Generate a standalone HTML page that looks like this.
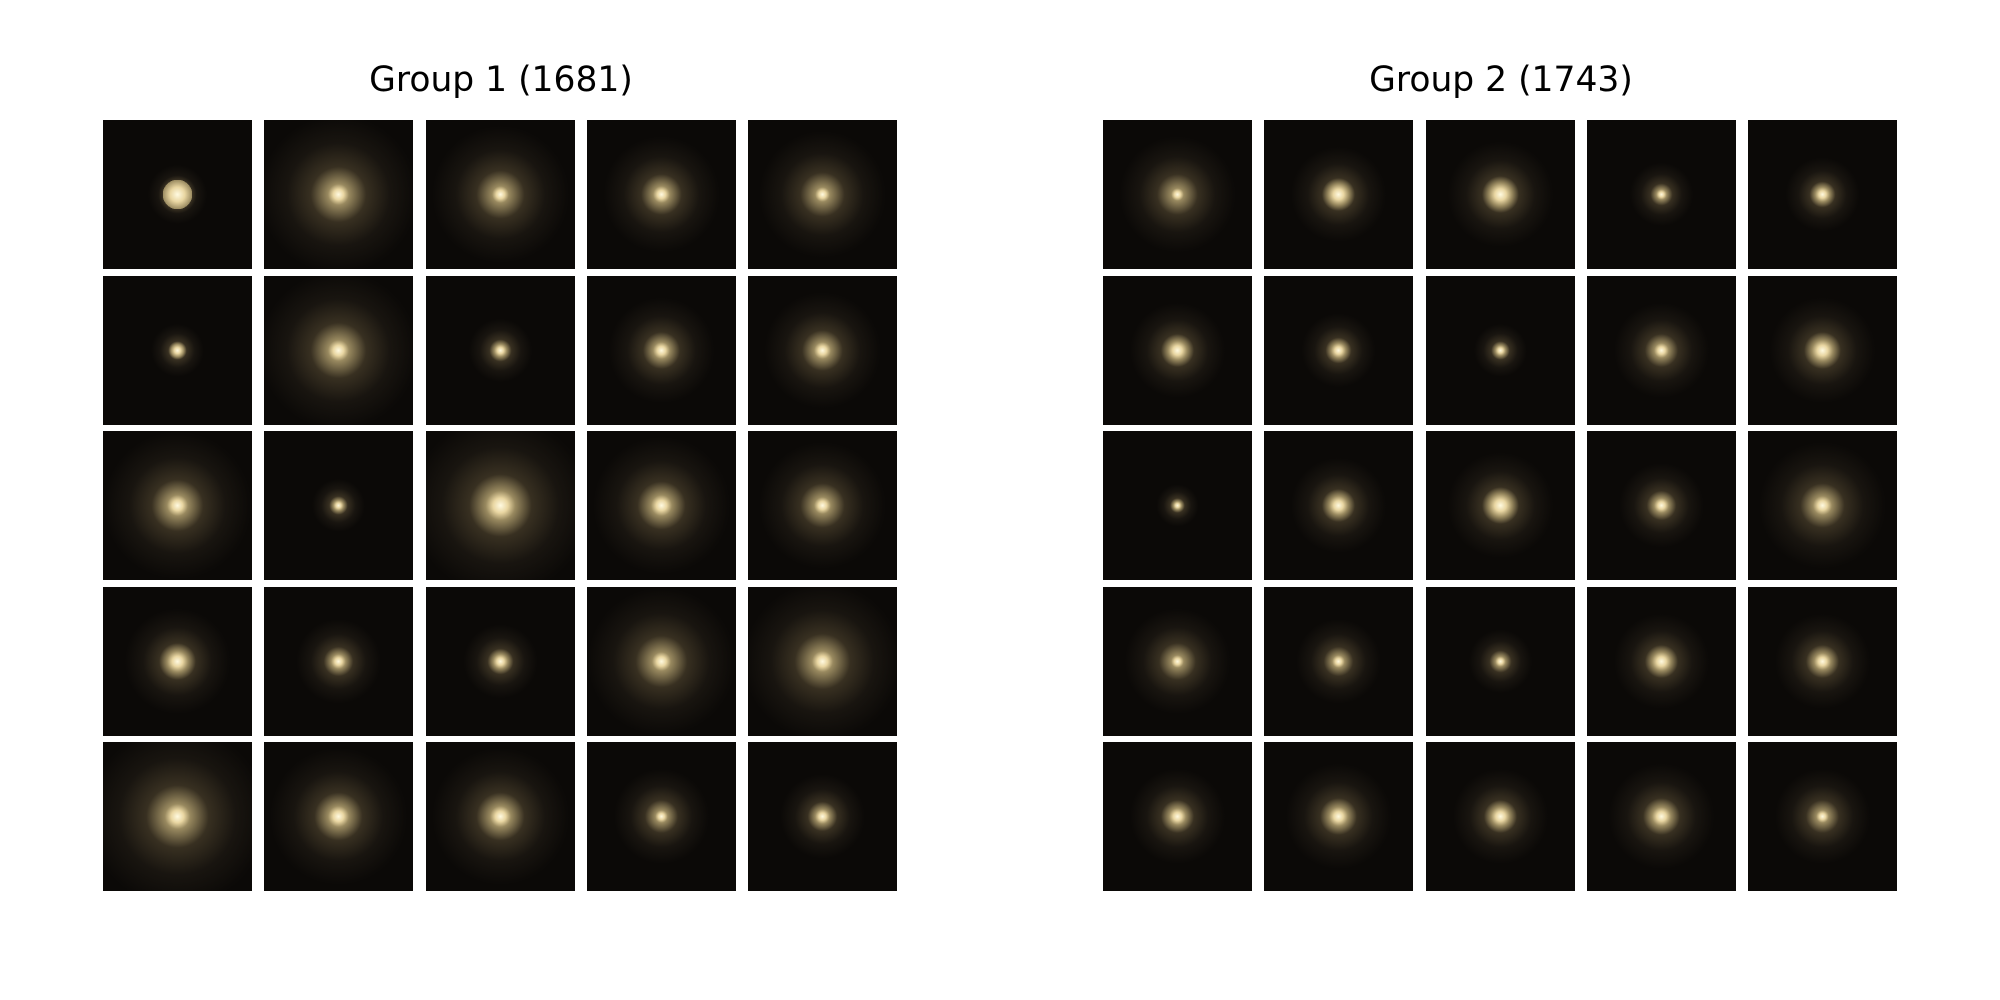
<!DOCTYPE html>
<html>
<head>
<meta charset="utf-8">
<style>
  html,body{margin:0;padding:0;background:#fff;}
  #fig{position:relative;width:2000px;height:1000px;background:#fff;overflow:hidden;}
  .title{position:absolute;top:60px;width:600px;text-align:center;font-family:"DejaVu Sans","Liberation Sans",sans-serif;font-size:34.5px;color:#000;line-height:40px;}
  .tile{position:absolute;width:149px;height:149px;}
</style>
</head>
<body>
<div id="fig">
  <div class="title" style="left:201px">Group 1 (1681)</div>
  <div class="title" style="left:1201px">Group 2 (1743)</div>
</div>
<script>
// halo extent (fraction of tile) and core brightness size per galaxy, row-major
const group1Halo = [0.28,0.75,0.65,0.55,0.6, 0.25,0.75,0.3,0.5,0.55, 0.7,0.25,0.85,0.65,0.6, 0.5,0.4,0.35,0.7,0.75, 0.85,0.65,0.65,0.45,0.4];
const group1Core = [0.14,0.1,0.08,0.08,0.07, 0.06,0.1,0.06,0.08,0.08, 0.1,0.05,0.14,0.1,0.08, 0.1,0.07,0.07,0.09,0.1, 0.12,0.1,0.1,0.06,0.07];
const group2Halo = [0.55,0.45,0.5,0.3,0.35, 0.45,0.35,0.25,0.45,0.5, 0.2,0.45,0.5,0.4,0.6, 0.5,0.4,0.3,0.45,0.45, 0.45,0.5,0.45,0.5,0.45];
const group2Core = [0.06,0.1,0.11,0.05,0.07, 0.09,0.07,0.05,0.07,0.1, 0.04,0.09,0.11,0.07,0.09, 0.06,0.06,0.05,0.09,0.08, 0.08,0.09,0.09,0.09,0.06];

const fig = document.getElementById('fig');
const PITCHX = 161.3, PITCHY = 155.5, TOP = 120;
function drawGroup(halo, core, x0, gname) {
  for (let i = 0; i < halo.length; i++) {
    const r = Math.floor(i / 5), c = i % 5;
    const el = document.createElement('div');
    el.className = 'tile';
    el.style.left = Math.round(x0 + c * PITCHX) + 'px';
    el.style.top = Math.round(TOP + r * PITCHY) + 'px';
    const h = halo[i] * 100, k = core[i] * 100;
    el.style.background =
      'radial-gradient(circle at 50% 50%, rgba(255,250,225,1) 0%, rgba(245,225,170,0.95) ' + (k * 0.5).toFixed(1) + '%, rgba(200,180,125,0.75) ' + k.toFixed(1) + '%, rgba(110,95,65,0.45) ' + (h * 0.35).toFixed(1) + '%, rgba(50,43,32,0.35) ' + (h * 0.65).toFixed(1) + '%, rgba(12,10,7,0) ' + h.toFixed(1) + '%), #0b0907';
    
    
    fig.appendChild(el);
  }
}
drawGroup(group1Halo, group1Core, 103, 'group-1');
drawGroup(group2Halo, group2Core, 1103, 'group-2');
</script>
</body>
</html>
